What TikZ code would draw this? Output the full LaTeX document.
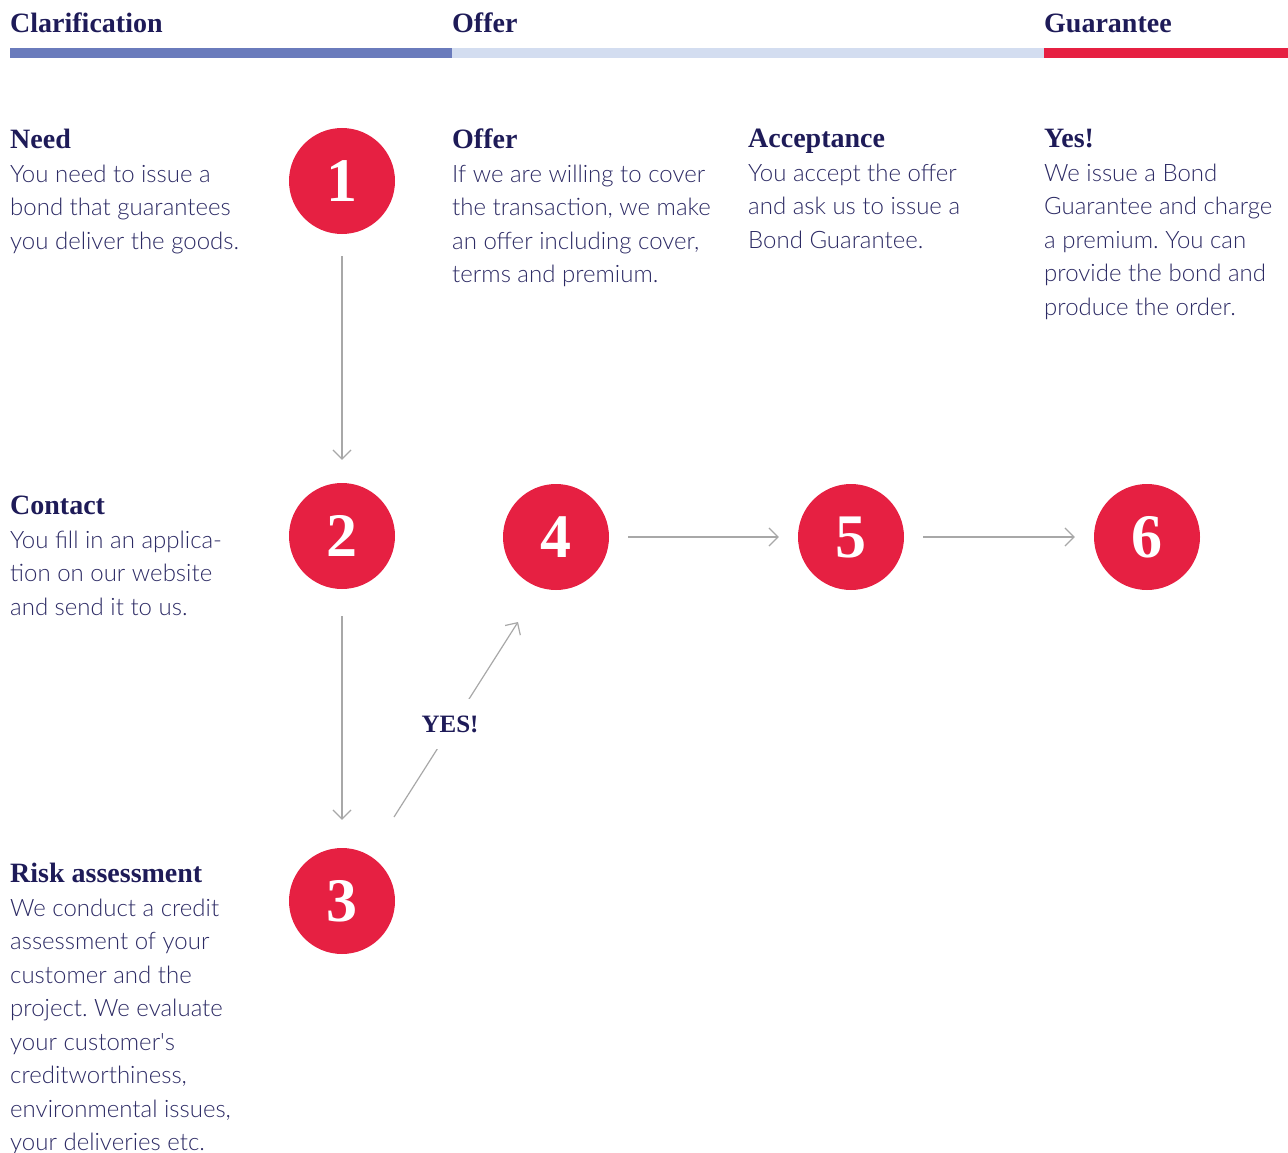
\documentclass[tikz,border=0pt]{standalone}
\usepackage{fontspec}
\usetikzlibrary{arrows.meta}
\IfFontExistsTF{Lato Light}{\newfontfamily\bodyf{Lato Light}}{\newfontfamily\bodyf{Lato}}
\newfontfamily\headf{Liberation Serif}[BoldFont={Liberation Serif Bold}]
\definecolor{navy}{HTML}{1E1B58}
\definecolor{bodyc}{HTML}{2C2A64}
\definecolor{redc}{HTML}{E62042}
\definecolor{barblue}{HTML}{6A7BBC}
\definecolor{barlight}{HTML}{D3DDF0}
\definecolor{arrc}{HTML}{A8A8A8}
\tikzset{
  numc/.style={circle, fill=redc, minimum size=106pt, inner sep=0pt, text=white,
    font=\headf\bfseries\fontsize{62}{62}\selectfont},
  phase/.style={anchor=base west, inner sep=0pt, text=navy,
    font=\headf\bfseries\fontsize{28}{28}\selectfont},
  block/.style={anchor=north west, inner sep=0pt, align=left, text=bodyc,
    font=\bodyf\fontsize{24}{33.5}\selectfont\frenchspacing},
  arr/.style={draw=arrc, line width=1.2pt, -{Straight Barb[length=9pt,width=18pt,line width=1.2pt]},
    shorten <=21pt, shorten >=22pt},
  yes/.style={fill=white, inner sep=0pt, minimum width=56pt, minimum height=50pt, text=navy,
    font=\headf\bfseries\fontsize{25}{25}\selectfont}
}
\newcommand{\hdtxt}[1]{{\headf\bfseries\fontsize{28}{28}\selectfont\color{navy}#1}}
\begin{document}
\begin{tikzpicture}[x=1pt,y=-1pt]
\useasboundingbox (0,0) rectangle (1288,1153);
% phase bar
\fill[barblue] (10,48) rectangle (452,58);
\fill[barlight] (452,48) rectangle (1044,58);
\fill[redc] (1044,48) rectangle (1288,58);
\node[phase] (p1) at (10,33) {Clarification};
\node[phase] (p2) at (452,33) {Offer};
\node[phase] (p3) at (1044,33) {Guarantee};
% text blocks
\node[block] (t1) at (10,129) {\hdtxt{Need}\\You need to issue a\\bond that guarantees\\you deliver the goods.};
\node[block] (t2) at (10,496) {\hdtxt{Contact}\\You fill in an applica-\\tion on our website\\and send it to us.};
\node[block] (t3) at (10,863) {\hdtxt{Risk assessment}\\We conduct a credit\\assessment of your\\customer and the\\project. We evaluate\\your customer's\\creditworthiness,\\environmental issues,\\your deliveries etc.};
\node[block] (t4) at (452,129) {\hdtxt{Offer}\\If we are willing to cover\\the transaction, we make\\an offer including cover,\\terms and premium.};
\node[block] (t5) at (748,129) {\hdtxt{Acceptance}\\You accept the offer\\and ask us to issue a\\Bond Guarantee.};
\node[block] (t6) at (1044,129) {\hdtxt{Yes!}\\We issue a Bond\\Guarantee and charge\\a premium. You can\\provide the bond and\\produce the order.};
% circles
\node[numc] (c1) at (342,181) {1};
\node[numc] (c2) at (342,536) {2};
\node[numc] (c3) at (342,901) {3};
\node[numc] (c4) at (556,537) {4};
\node[numc] (c5) at (851,537) {5};
\node[numc] (c6) at (1147,537) {6};
% connectors
\draw[arr, shorten <=22pt, shorten >=23pt] (c1) -- (c2);
\draw[arr, shorten <=27pt, shorten >=28pt] (c2) -- (c3);
\draw[arr, shorten <=19pt, shorten >=19pt] (c4) -- (c5);
\draw[arr, shorten <=19pt, shorten >=19pt] (c5) -- (c6);
\coordinate (ys) at (394,817);
\coordinate (ye) at (518,622);
\draw[arr, shorten <=0pt, shorten >=0pt] (ys) -- (ye);
\node[yes] (yl) at (450,724) {YES!};
\end{tikzpicture}
\end{document}
